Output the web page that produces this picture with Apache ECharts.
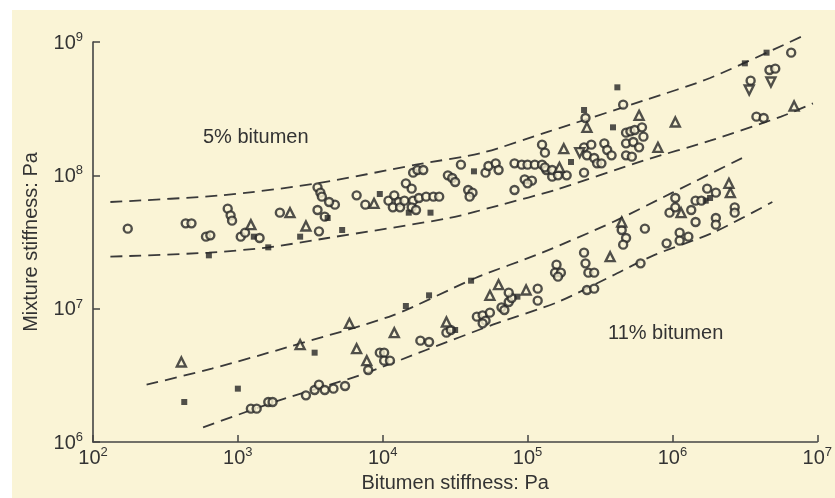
<!DOCTYPE html>
<html>
<head>
<meta charset="utf-8">
<script src="https://cdn.jsdelivr.net/npm/echarts@6/dist/echarts.min.js"></script>
<style>
  html, body { margin: 0; padding: 0; background: #fff; }
  #chart { width: 835px; height: 498px; }
</style>
</head>
<body>
<div id="chart"></div>
<script>
// all readings are log10(Pa): [bitumen stiffness, mixture stiffness]
const circles5 = [
  [2.24,7.60],[2.64,7.64],[2.68,7.64],[2.78,7.54],[2.81,7.55],[2.93,7.75],[2.95,7.70],[2.96,7.66],
  [3.02,7.54],[3.05,7.57],[3.15,7.53],[3.29,7.72],[3.56,7.58],[3.55,7.91],[3.57,7.87],[3.55,7.74],
  [3.60,7.69],[3.58,7.84],[3.67,7.78],[3.63,7.80],[3.82,7.85],[3.88,7.78],[4.04,7.81],[4.08,7.85],
  [4.11,7.80],[4.07,7.76],[4.12,7.76],[4.15,7.81],[4.21,7.81],[4.25,7.83],[4.30,7.84],[4.35,7.84],
  [4.39,7.84],[4.20,7.76],[4.23,7.74],[4.16,7.94],[4.20,7.90],[4.21,8.02],[4.24,8.04],[4.28,8.04],
  [4.45,8.00],[4.48,7.98],[4.50,7.95],[4.54,8.08],[4.71,8.02],[4.73,8.07],[4.78,8.09],[4.80,8.04],
  [4.59,7.89],[4.62,7.87],[4.60,7.84],[4.91,8.09],[4.96,8.08],[5.00,8.08],[5.05,8.08],[5.10,8.08],
  [5.13,8.04],[5.10,8.23],[5.12,8.17],[4.98,7.97],[5.03,7.96],[5.00,7.94],[4.91,7.89],[5.17,7.99],
  [5.12,8.06],[5.17,8.04],[5.21,8.00],[5.27,8.00],[5.39,8.21],[5.44,8.23],[5.41,8.15],[5.46,8.13],
  [5.48,8.09],[5.51,8.09],[5.39,8.02],[5.53,8.24],[5.55,8.19],[5.58,8.15],[5.40,8.43],[5.66,8.53],
  [5.68,8.32],[5.71,8.33],[5.74,8.34],[5.79,8.36],[5.80,8.29],[5.68,8.24],[5.73,8.25],[5.77,8.21],
  [5.68,8.15],[5.72,8.14],[6.82,8.92],[6.67,8.79],[6.71,8.80],[6.54,8.71],[6.58,8.44],[6.63,8.43]
]
const triangles5 = [
  [3.09,7.63],[3.36,7.72],[3.47,7.62],[3.94,7.79],[5.25,8.20],[5.22,8.06],[5.41,8.36],[5.77,8.45],
  [5.90,8.21],[6.02,8.40],[6.84,8.52]
]
const invTriangles5 = [[5.36,8.17],[6.53,8.64],[6.68,8.70]]
const squares5 = [
  [3.11,7.54],[3.21,7.46],[2.80,7.40],[3.43,7.54],[3.62,7.68],[3.72,7.59],[3.98,7.86],[4.33,7.72],
  [4.18,7.72],[4.63,8.03],[5.30,8.10],[5.59,8.36],[5.62,8.66],[6.50,8.84],[6.65,8.92],[5.39,8.49]
]

const circles11 = [
  [3.09,6.25],[3.13,6.25],[3.21,6.30],[3.24,6.30],[3.47,6.35],[3.53,6.39],[3.56,6.43],[3.60,6.39],
  [3.66,6.40],[3.74,6.42],[3.90,6.54],[3.98,6.67],[4.01,6.67],[4.01,6.61],[4.05,6.61],[4.26,6.76],
  [4.32,6.75],[4.44,6.82],[4.47,6.84],[4.65,6.94],[4.69,6.95],[4.71,6.91],[4.74,6.97],[4.69,6.89],
  [4.82,7.01],[4.84,6.99],[4.87,7.05],[4.89,7.08],[4.87,7.12],[5.07,7.15],[5.07,7.06],[5.20,7.33],
  [5.19,7.27],[5.23,7.27],[5.21,7.24],[5.39,7.42],[5.40,7.34],[5.42,7.27],[5.46,7.27],[5.41,7.14],
  [5.46,7.15],[5.65,7.59],[5.68,7.53],[5.66,7.48],[5.81,7.60],[5.78,7.34],[5.96,7.49],[6.05,7.57],
  [6.05,7.51],[6.11,7.54],[5.98,7.72],[6.02,7.76],[6.02,7.83],[6.13,7.74],[6.16,7.65],[6.16,7.81],
  [6.20,7.81],[6.24,7.90],[6.30,7.87],[6.30,7.68],[6.30,7.63],[6.43,7.76],[6.43,7.72]
]
const triangles11 = [
  [2.61,6.60],[3.43,6.73],[3.77,6.89],[3.82,6.70],[3.89,6.61],[4.08,6.82],[4.44,6.90],[4.74,7.10],
  [4.80,7.18],[4.99,7.14],[5.57,7.39],[5.65,7.65],[6.06,7.72],[6.40,7.87],[6.39,7.94]
]
const squares11 = [
  [2.63,6.30],[3.00,6.40],[3.53,6.67],[4.16,7.02],[4.32,7.10],[4.61,7.21],[4.50,6.84],[4.93,7.09],
  [6.23,7.81],[6.26,7.83]
]

// dashed envelopes
const upper5 = [[2.12,7.80],[2.89,7.85],[3.55,7.94],[4.23,8.08],[4.69,8.17],[5.15,8.33],[5.80,8.56],[6.26,8.73],[6.89,9.04]]
const lower5 = [[2.12,7.39],[2.80,7.42],[3.21,7.46],[3.62,7.53],[4.46,7.68],[4.82,7.78],[5.19,7.89],[5.80,8.11],[6.26,8.26],[6.75,8.44],[6.97,8.54]]
const upper11 = [[2.37,6.43],[2.82,6.55],[3.34,6.71],[4.07,6.95],[4.64,7.23],[5.10,7.42],[5.59,7.65],[6.00,7.87],[6.50,8.14]]
const lower11 = [[2.76,6.11],[3.28,6.31],[3.84,6.50],[4.30,6.69],[4.76,6.88],[5.21,7.05],[5.59,7.25],[5.87,7.40],[6.28,7.57],[6.69,7.80]]

const toPa = arr => arr.map(p => [Math.pow(10, p[0]), Math.pow(10, p[1])])

const font = 'Liberation Sans, Arial, sans-serif'
const ink = '#333'
const mark = '#262626'
const bg = '#faf4d6'

const tickLabel = {
  color: ink,
  fontFamily: font,
  formatter: v => '{b|10}{s|' + Math.round(Math.log10(v)) + '}',
  rich: {
    b: { fontSize: 20, fontFamily: font, color: ink, lineHeight: 22, verticalAlign: 'bottom' },
    s: { fontSize: 13, fontFamily: font, color: ink, lineHeight: 13, verticalAlign: 'top' }
  }
}

const openMark = (data, symbol, size, rotate) => ({
  type: 'scatter',
  data: toPa(data),
  symbol: symbol,
  symbolSize: size,
  symbolRotate: rotate || 0,
  itemStyle: { color: bg, borderColor: mark, borderWidth: 2.4 },
  silent: true
})

const filledMark = data => ({
  type: 'scatter',
  data: toPa(data),
  symbol: 'rect',
  symbolSize: 6,
  itemStyle: { color: mark },
  silent: true
})

const dashed = data => ({
  type: 'line',
  data: toPa(data),
  symbol: 'none',
  smooth: 0.25,
  clip: false,
  silent: true,
  lineStyle: { color: '#3a3a3a', width: 1.8, type: [12, 7] },
  z: 1
})

const chart = echarts.init(document.getElementById('chart'))
chart.setOption({
  backgroundColor: bg,
  animation: false,
  grid: { left: 93, right: 9, top: 42, bottom: 56 },
  xAxis: {
    type: 'log',
    logBase: 10,
    min: 1e2,
    max: 1e7,
    name: 'Bitumen stiffness: Pa',
    nameLocation: 'middle',
    nameGap: 31,
    nameTextStyle: { fontSize: 20, fontFamily: font, color: ink },
    axisLine: { lineStyle: { color: '#444', width: 1.6 } },
    axisTick: { inside: true, length: 7, lineStyle: { color: '#444', width: 1.5 } },
    axisLabel: Object.assign({ margin: 4 }, tickLabel),
    splitLine: { show: false },
    minorTick: { show: false }
  },
  yAxis: {
    type: 'log',
    logBase: 10,
    min: 1e6,
    max: 1e9,
    name: 'Mixture stiffness: Pa',
    nameLocation: 'middle',
    nameGap: 52,
    nameTextStyle: { fontSize: 20, fontFamily: font, color: ink },
    axisLine: { lineStyle: { color: '#444', width: 1.6 } },
    axisTick: { inside: true, length: 7, lineStyle: { color: '#444', width: 1.5 } },
    axisLabel: Object.assign({ margin: 10 }, tickLabel),
    splitLine: { show: false }
  },
  graphic: [
    { type: 'rect', left: 0, top: 0, shape: { width: 835, height: 10 }, style: { fill: '#fff' }, silent: true },
    { type: 'rect', left: 0, top: 0, shape: { width: 12, height: 498 }, style: { fill: '#fff' }, silent: true },
    { type: 'text', left: 203, top: 127, style: { text: '5% bitumen', font: '20px ' + font, fill: ink } },
    { type: 'text', left: 608, top: 323, style: { text: '11% bitumen', font: '20px ' + font, fill: ink } }
  ],
  series: [
    dashed(upper5),
    dashed(lower5),
    dashed(upper11),
    dashed(lower11),
    openMark(circles5, 'circle', 8),
    openMark(triangles5, 'triangle', 9),
    openMark(invTriangles5, 'triangle', 9, 180),
    filledMark(squares5),
    openMark(circles11, 'circle', 8),
    openMark(triangles11, 'triangle', 9),
    filledMark(squares11)
  ]
})
</script>
</body>
</html>
